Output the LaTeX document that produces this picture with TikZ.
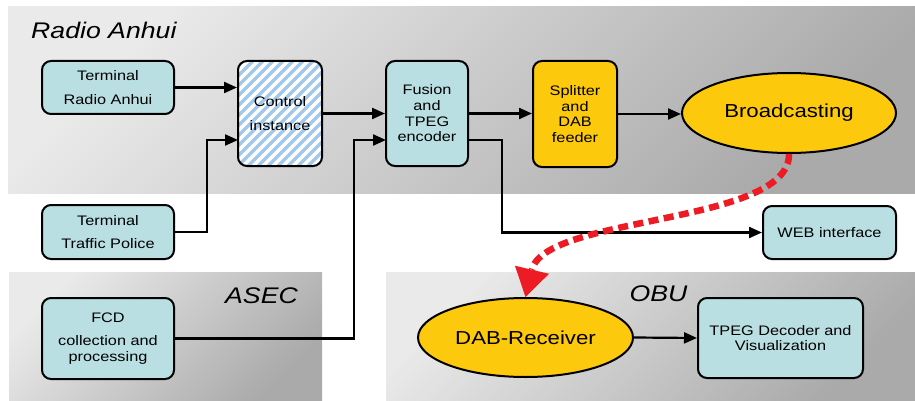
\documentclass[tikz,border=0pt]{standalone}
\usepackage{fontspec}
\setmainfont{Liberation Sans}[FakeStretch=1.18]
\usetikzlibrary{arrows.meta,shapes.geometric}
\definecolor{boxblue}{HTML}{B9DFE2}
\definecolor{gold}{HTML}{FCC90C}
\definecolor{stripeblue}{HTML}{A3C8EC}
\definecolor{redarr}{HTML}{ED1C24}
\definecolor{panellight}{HTML}{EAEAEA}
\definecolor{paneldark}{HTML}{AAAAAA}
\begin{document}
\begin{tikzpicture}[x=1pt,y=-1pt,
  box/.style={draw=black, line width=2pt, rounded corners=9pt, fill=boxblue, align=center, inner sep=0pt, font=\fontsize{13.8}{15.7}\selectfont},
  goldbox/.style={box, fill=gold},
  ell/.style={draw=black, ellipse, line width=2pt, fill=gold, inner sep=0pt, font=\fontsize{18.8}{22}\selectfont},
  conn/.style={line width=2.2pt, -{Triangle[length=13pt,width=11pt]}},
  panel/.style={top color=panellight, bottom color=paneldark, shading angle=45},
  hd/.style={font=\fontsize{22.6}{26}\selectfont\itshape, inner sep=0pt},
]
\useasboundingbox (0,0) rectangle (915,401);
% panels
\shade[panel] (8,7) rectangle (915,193);
\shade[panel] (9,272) rectangle (322,401);
\shade[panel] (386,272) rectangle (915,401);
% headings
\node[hd, anchor=west] (h1) at (31,30) {Radio Anhui};
\node[hd] (h2) at (261.5,296) {ASEC};
\node[hd] (h3) at (658.5,294) {OBU};
% nodes
\node[box, minimum width=132pt, minimum height=53pt] (tra) at (108,87.5) {Terminal\\[8pt]Radio Anhui};
\node[box, fill=white, minimum width=84pt, minimum height=105pt,
  path picture={\foreach \i in {-12,...,10}{\draw[stripeblue, line width=3.5pt] ([xshift=\i*10pt]path picture bounding box.south west) -- ++(130pt,130pt);}}] (ctrl) at (280,113.5) {Control\\[8pt]instance};
\node[box, minimum width=82pt, minimum height=105pt] (fus) at (427,113.5) {Fusion\\and\\TPEG\\encoder};
\node[goldbox, minimum width=84pt, minimum height=106pt] (spl) at (575,114) {Splitter\\and\\DAB\\feeder};
\node[ell, minimum width=214pt, minimum height=80pt] (bc) at (789,113) {Broadcasting};
\node[box, minimum width=132pt, minimum height=54pt] (ttp) at (108,232) {Terminal\\[8pt]Traffic Police};
\node[box, minimum width=132pt, minimum height=81pt] (fcd) at (108,338.5) {FCD\\[8pt]collection and\\processing};
\node[box, minimum width=133pt, minimum height=53pt] (web) at (829.5,232.5) {WEB interface};
\node[ell, minimum width=215pt, minimum height=79pt] (dab) at (525.5,337.5) {DAB-Receiver};
\node[box, minimum width=165pt, minimum height=80pt] (tpeg) at (780.5,338) {TPEG Decoder and\\Visualization};
% helper coordinates
\coordinate (ci2) at (238,140);
\coordinate (fi2) at (386,140);
\coordinate (fo2) at (468,140);
% connectors
\draw[conn] (tra.east) -- (ctrl.west |- tra.east);
\draw[conn] (ttp.east) -| ([xshift=-31pt]ci2) -- (ci2);
\draw[conn] (ctrl.east) -- (fus.west);
\draw[conn] (fcd.east) -| ([xshift=-32pt]fi2) -- (fi2);
\draw[conn] (fus.east) -- (fus.east -| spl.west);
\draw[conn] (spl.east) -- (spl.east -| bc.west);
\draw[conn] (fo2) -- ++(34,0) |- (web.west);
\draw[conn] (dab.east) -- (tpeg.west);
\draw[redarr, line width=6.5pt, dash pattern=on 10pt off 5.5pt, -{Triangle[length=28pt,width=35pt,line width=0pt]}] (bc.south) .. controls (790,225) and (545,215) .. (dab.north);
\end{tikzpicture}
\end{document}
